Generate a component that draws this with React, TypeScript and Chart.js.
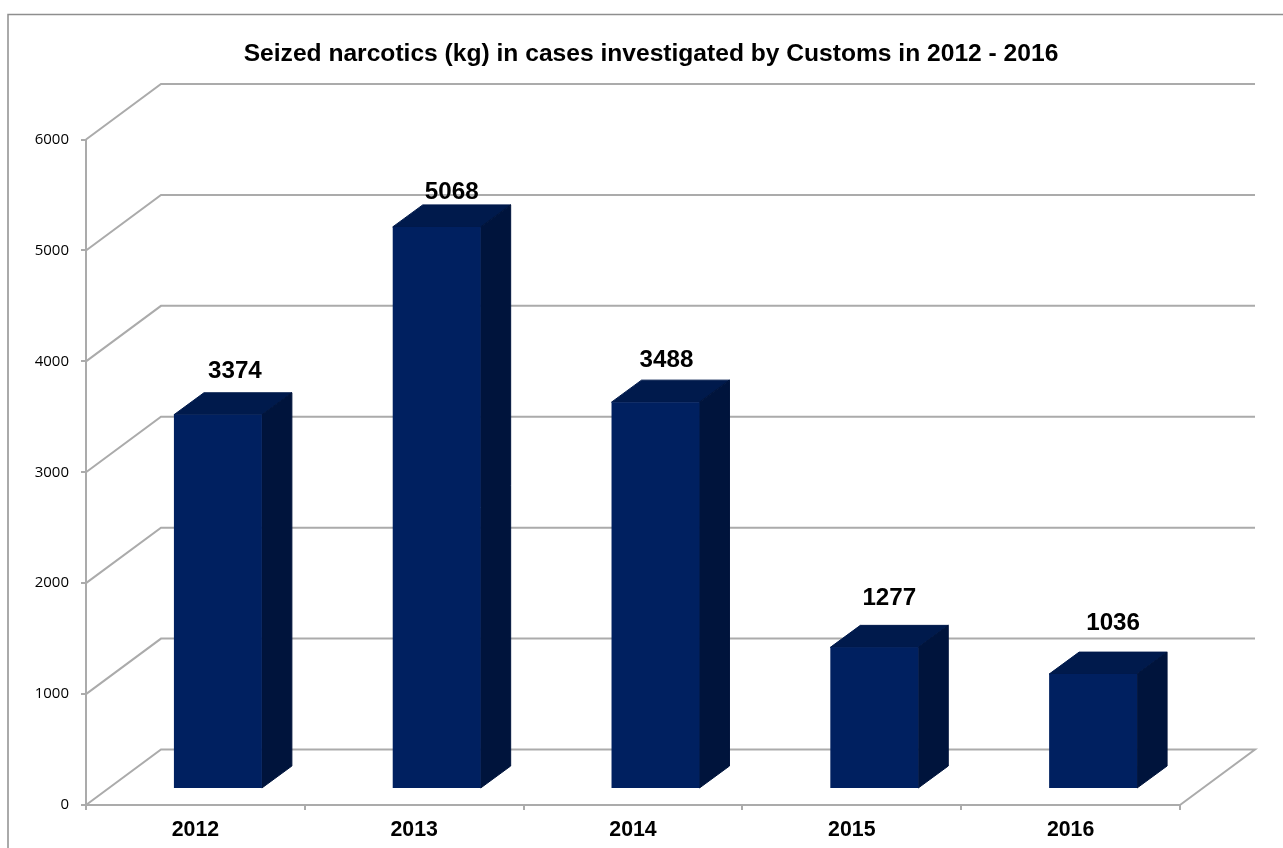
import React, { useEffect, useRef } from "react";
import { Chart, registerables } from "chart.js";

Chart.register(...registerables);

const titleText = "Seized narcotics (kg) in cases investigated by Customs in 2012 - 2016";
const categories = ["2012", "2013", "2014", "2015", "2016"];
const seized = [3374, 5068, 3488, 1277, 1036];
const yTicks = [0, 1000, 2000, 3000, 4000, 5000, 6000];
// hand-placed data label offsets, as in the reference (px from the bar's front-top centre)
const labelNudgeX = [17, 15, 11, 15, 20];
const labelNudgeY = [-43, -35, -42, -49, -51];

const GRID = "#ababab";
const DEPTH_X = 75;
const DEPTH_Y = 55.5;
const BAR_SHIFT_X = 22.5;
const BAR_SHIFT_Y = -16;
const BAR_DX = 30;
const BAR_DY = 22;

const scene = {
  id: "scene3d",
  beforeDraw(chart: any) {
    const c = chart.ctx;
    c.save();
    c.fillStyle = "#fff";
    c.fillRect(0, 0, chart.width, chart.height);
    c.strokeStyle = "#8e8e8e";
    c.lineWidth = 1.5;
    c.beginPath();
    c.moveTo(8, chart.height);
    c.lineTo(8, 14.5);
    c.lineTo(chart.width, 14.5);
    c.stroke();
    c.restore();
  },
  beforeDatasetsDraw(chart: any) {
    const c = chart.ctx;
    const { left, right } = chart.chartArea;
    const yS = chart.scales.y;
    c.save();
    c.strokeStyle = GRID;
    c.lineWidth = 2;
    for (const v of yTicks) {
      const y = yS.getPixelForValue(v);
      c.beginPath();
      c.moveTo(left, y);
      c.lineTo(left + DEPTH_X, y - DEPTH_Y);
      c.lineTo(right + DEPTH_X, y - DEPTH_Y);
      if (v === 0) c.lineTo(right, y);
      c.stroke();
    }
    c.restore();
  },
  beforeDatasetDraw(chart: any) {
    const c = chart.ctx;
    c.save();
    c.translate(BAR_SHIFT_X, BAR_SHIFT_Y);
    c.lineWidth = 1;
    c.lineJoin = "round";
    for (const bar of chart.getDatasetMeta(0).data) {
      const p = bar.getProps(["x", "y", "base", "width"], true);
      const x0 = p.x - p.width / 2;
      const x1 = p.x + p.width / 2;
      c.fillStyle = c.strokeStyle = "#001a4c";
      c.beginPath();
      c.moveTo(x0, p.y);
      c.lineTo(x0 + BAR_DX, p.y - BAR_DY);
      c.lineTo(x1 + BAR_DX, p.y - BAR_DY);
      c.lineTo(x1, p.y);
      c.closePath();
      c.fill();
      c.stroke();
      c.fillStyle = c.strokeStyle = "#00143c";
      c.beginPath();
      c.moveTo(x1, p.y);
      c.lineTo(x1 + BAR_DX, p.y - BAR_DY);
      c.lineTo(x1 + BAR_DX, p.base - BAR_DY);
      c.lineTo(x1, p.base);
      c.closePath();
      c.fill();
      c.stroke();
    }
  },
  afterDatasetDraw(chart: any) {
    chart.ctx.restore();
  },
  afterDatasetsDraw(chart: any) {
    const c = chart.ctx;
    c.save();
    c.fillStyle = "#000";
    c.font = 'bold 24.2px "Liberation Sans"';
    c.textAlign = "center";
    c.textBaseline = "middle";
    chart.getDatasetMeta(0).data.forEach((bar: any, i: number) => {
      const p = bar.getProps(["x", "y"], true);
      c.fillText(
        String(seized[i]),
        p.x + BAR_SHIFT_X + labelNudgeX[i],
        p.y + BAR_SHIFT_Y + labelNudgeY[i]
      );
    });
    c.restore();
  },
  afterLayout(chart: any) {
    if (chart.titleBlock) {
      chart.titleBlock.left = 19;
      chart.titleBlock.right = 1283;
    }
  },
};

export default function App() {
  const ref = useRef<HTMLCanvasElement>(null);
  useEffect(() => {
    const chart = new Chart(ref.current as HTMLCanvasElement, {
      type: "bar",
      data: {
        labels: categories,
        datasets: [
          {
            label: "Seized narcotics (kg)",
            data: seized,
            backgroundColor: "#002060",
            categoryPercentage: 1,
            barPercentage: 0.402,
          },
        ],
      },
      options: {
        responsive: false,
        animation: false,
        layout: { padding: { left: 0, right: 103, top: 0, bottom: 0 } },
        plugins: {
          legend: { display: false },
          tooltip: { enabled: false },
          title: {
            display: true,
            text: titleText,
            color: "#000",
            font: { family: "Liberation Sans", size: 24.6, weight: "bold" },
            padding: { top: 39, bottom: 71 },
          },
        },
        scales: {
          x: {
            grid: { offset: true, drawOnChartArea: false, color: GRID, tickLength: 5, lineWidth: 2 },
            border: { color: GRID, width: 2 },
            ticks: {
              color: "#000",
              font: { family: "Liberation Sans", size: 21.3, weight: "bold" },
              padding: 7,
              maxRotation: 0,
            },
            afterFit(s: any) {
              s.height = 43;
            },
          },
          y: {
            min: 0,
            max: 6000,
            grid: { drawOnChartArea: false, color: GRID, tickLength: 5, lineWidth: 2 },
            border: { color: GRID, width: 2 },
            ticks: {
              stepSize: 1000,
              color: "#000",
              font: { family: "Open Sans", size: 15 },
              padding: 12,
              callback: (v: any) => String(v),
            },
            afterFit(s: any) {
              s.width = 86;
            },
          },
        },
      },
      plugins: [scene],
    } as any);
    return () => chart.destroy();
  }, []);
  return (
    <canvas
      ref={ref}
      width={1283}
      height={848}
      style={{ position: "absolute", left: 0, top: 0, width: 1283, height: 848 }}
    />
  );
}
